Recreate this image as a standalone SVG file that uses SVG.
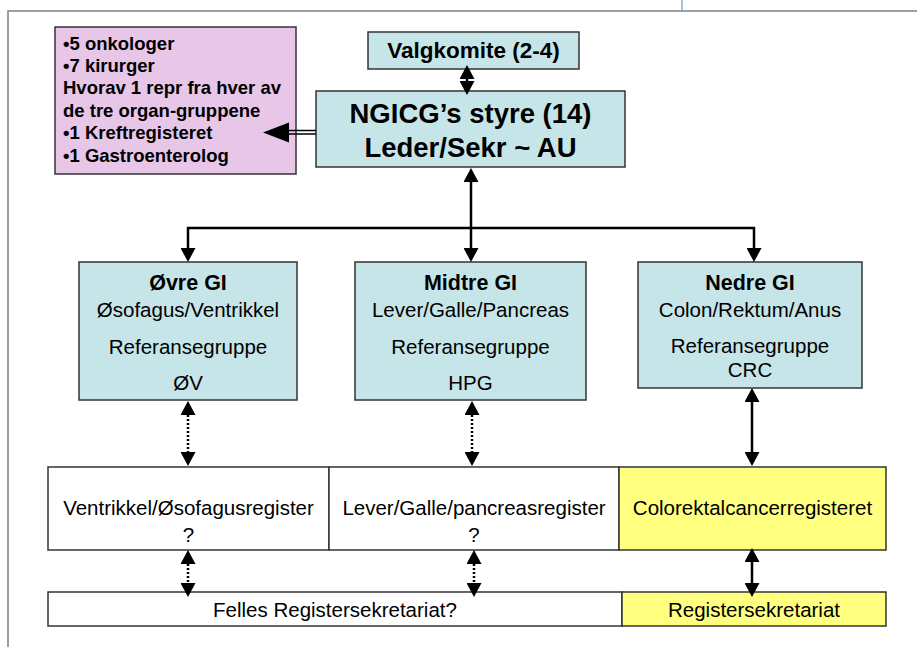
<svg xmlns="http://www.w3.org/2000/svg" width="917" height="647" viewBox="0 0 917 647">
<style>
  .box { stroke: #333; stroke-width: 1.5; }
  .cyan { fill: #C6E5E8; }
  .pink { fill: #E8C6E8; }
  .yel { fill: #FFFF80; }
  .wht { fill: #FFFFFF; }
  text { font-family: "Liberation Sans", Arial, sans-serif; fill: #000; }
  .b { font-weight: bold; }
  .r { font-size: 20.5px; }
  .c { text-anchor: middle; }
  .ln { stroke: #000; stroke-width: 2.5; fill: none; }
  .dot { stroke: #000; stroke-width: 2.5; fill: none; stroke-dasharray: 2 2; }
</style>
<defs>
  <marker id="ah" markerUnits="userSpaceOnUse" markerWidth="14" markerHeight="15" refX="0" refY="7.5" orient="auto-start-reverse" viewBox="0 0 14 15">
    <path d="M0,0 L14,7.5 L0,15 z" fill="#000"/>
  </marker>
</defs>
<g id="frame">
  <path d="M8,647 V11 H917" fill="none" stroke="#808080" stroke-width="1.5"/>
  <path d="M682,0 V11" fill="none" stroke="#6A9BC8" stroke-width="1.2"/>
</g>
<g id="members">
  <rect class="box pink" x="55" y="27" width="241" height="147"/>
  <text class="b" font-size="18.5" x="63">
    <tspan x="63" y="49.5">•5 onkologer</tspan>
    <tspan x="63" y="71.5">•7 kirurger</tspan>
    <tspan x="63" y="94">Hvorav 1 repr fra hver av</tspan>
    <tspan x="63" y="116.5">de tre organ-gruppene</tspan>
    <tspan x="63" y="139">•1 Kreftregisteret</tspan>
    <tspan x="63" y="161.5">•1 Gastroenterolog</tspan>
  </text>
</g>
<g id="valgkomite">
  <rect class="box cyan" x="368" y="32" width="211" height="37"/>
  <text class="b c" font-size="22.5" x="473.5" y="58">Valgkomite (2-4)</text>
</g>
<g id="styre">
  <rect class="box cyan" x="316" y="91" width="309" height="76"/>
  <text class="b c" font-size="27.5" x="470.5" y="123">NGICG’s styre (14)</text>
  <text class="b c" font-size="27.5" x="470.5" y="157">Leder/Sekr ~ AU</text>
</g>
<g id="ovre">
  <rect class="box cyan" x="79" y="262" width="218" height="138"/>
  <text class="b c" font-size="21.5" x="188" y="290">Øvre GI</text>
  <text class="r c" x="188" y="317">Øsofagus/Ventrikkel</text>
  <text class="r c" x="188" y="354">Referansegruppe</text>
  <text class="r c" x="188" y="390">ØV</text>
</g>
<g id="midtre">
  <rect class="box cyan" x="355" y="262" width="231" height="138"/>
  <text class="b c" font-size="21.5" x="470.5" y="290">Midtre GI</text>
  <text class="r c" x="470.5" y="317">Lever/Galle/Pancreas</text>
  <text class="r c" x="470.5" y="354">Referansegruppe</text>
  <text class="r c" x="470.5" y="390">HPG</text>
</g>
<g id="nedre">
  <rect class="box cyan" x="638" y="262" width="224" height="126"/>
  <text class="b c" font-size="21.5" x="750" y="290">Nedre GI</text>
  <text class="r c" x="750" y="317">Colon/Rektum/Anus</text>
  <text class="r c" x="750" y="353">Referansegruppe</text>
  <text class="r c" x="750" y="377">CRC</text>
</g>
<g id="reg-ovre">
  <rect class="box wht" x="48" y="467" width="281" height="83"/>
  <text class="r c" x="188.5" y="515">Ventrikkel/Øsofagusregister</text>
  <text class="r c" x="188.5" y="542">?</text>
</g>
<g id="reg-midtre">
  <rect class="box wht" x="329" y="467" width="290" height="83"/>
  <text class="r c" x="474" y="515">Lever/Galle/pancreasregister</text>
  <text class="r c" x="474" y="542">?</text>
</g>
<g id="reg-nedre">
  <rect class="box yel" x="619" y="467" width="267" height="83"/>
  <text class="r c" x="752.5" y="515">Colorektalcancerregisteret</text>
</g>
<g id="felles">
  <rect class="box wht" x="48" y="592" width="574" height="34"/>
  <text class="r c" x="335" y="617">Felles Registersekretariat?</text>
</g>
<g id="sekretariat">
  <rect class="box yel" x="622" y="592" width="264" height="34"/>
  <text class="r c" x="754" y="617">Registersekretariat</text>
</g>
<g id="connectors">
  <path class="ln" d="M467,79 V81" marker-start="url(#ah)" marker-end="url(#ah)"/>
  <path d="M288,130.5 H316 M288,134 H316" stroke="#000" stroke-width="1.3" fill="none"/>
  <polygon points="263,132.5 289,122.5 289,142.5" fill="#000"/>
  <path class="ln" d="M471,182 V248" marker-start="url(#ah)" marker-end="url(#ah)"/>
  <path class="ln" d="M188,248 V228 H754 V248" marker-start="url(#ah)" marker-end="url(#ah)"/>
  <path class="dot" d="M188,415 V452" marker-start="url(#ah)" marker-end="url(#ah)"/>
  <path class="dot" d="M472,415 V452" marker-start="url(#ah)" marker-end="url(#ah)"/>
  <path class="ln" d="M752,402 V452" marker-start="url(#ah)" marker-end="url(#ah)"/>
  <path class="dot" d="M188,564 V583" marker-start="url(#ah)" marker-end="url(#ah)"/>
  <path class="dot" d="M474,564 V583" marker-start="url(#ah)" marker-end="url(#ah)"/>
  <path class="ln" d="M752,562 V583" marker-start="url(#ah)" marker-end="url(#ah)"/>
</g>
</svg>
